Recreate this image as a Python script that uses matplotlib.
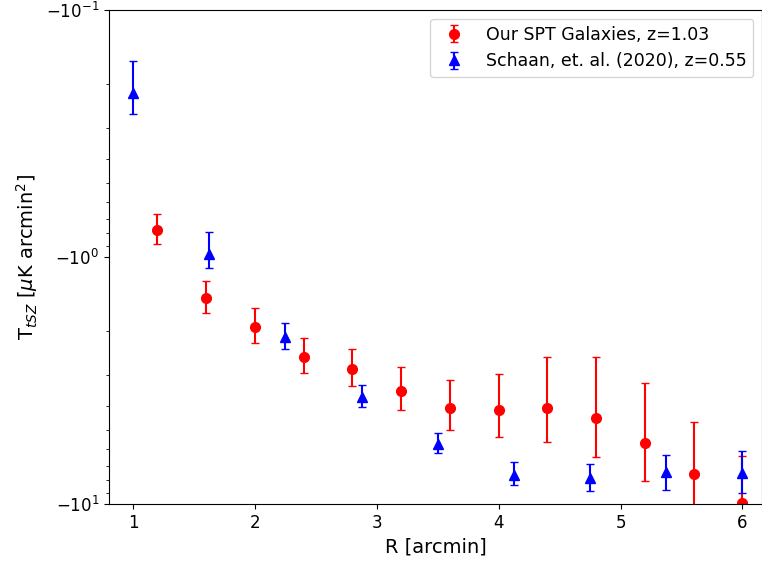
import matplotlib
matplotlib.use("Agg")
import matplotlib.pyplot as plt
from matplotlib.ticker import FixedLocator
import numpy as np

# red: our SPT galaxies (negative tSZ signal)
r_spt = [1.2, 1.6, 2.0, 2.4, 2.8, 3.2, 3.6, 4.0, 4.4, 4.8, 5.2, 5.6, 6.0]
t_spt = [-0.778, -1.466, -1.92, -2.54, -2.84, -3.48, -4.08, -4.16, -4.08, -4.49, -5.66, -7.56, -9.9]
err_lo_spt = [0.107, 0.22, 0.31, 0.41, 0.49, 0.68, 0.93, 1.19, 1.53, 1.95, 2.41, 2.9, 3.5]   # toward zero
err_hi_spt = [0.107, 0.22, 0.31, 0.41, 0.49, 0.68, 0.93, 1.19, 1.53, 1.95, 2.41, 2.86, 3.5]  # away from zero

# blue: Schaan et al. (2020)
r_sch = [1.0, 1.625, 2.25, 2.875, 3.5, 4.125, 4.75, 5.375, 6.0]
t_sch = [-0.217, -0.973, -2.11, -3.69, -5.71, -7.64, -7.85, -7.42, -7.48]
err_lo_sch = [0.056, 0.18, 0.26, 0.38, 0.55, 0.87, 0.96, 1.09, 1.38]
err_hi_sch = [0.047, 0.13, 0.25, 0.36, 0.51, 0.73, 1.0, 1.35, 1.54]

fig, ax = plt.subplots(figsize=(7.62, 5.63), dpi=100)

ax.errorbar(r_spt, t_spt, yerr=[err_hi_spt, err_lo_spt], fmt="o", color="red",
            capsize=3, markersize=7, label="Our SPT Galaxies, z=1.03")
ax.errorbar(r_sch, t_sch, yerr=[err_hi_sch, err_lo_sch], fmt="^", color="blue",
            capsize=3, markersize=7, label="Schaan, et. al. (2020), z=0.55")

ax.set_yscale("symlog", linthresh=0.01)
minor = [-k * 10.0 ** d for d in (-1, 0) for k in range(2, 10)]
ax.yaxis.set_minor_locator(FixedLocator(minor))
ax.set_ylim(-10, -0.1)
ax.set_xlim(0.803, 6.16)
ax.set_xlabel("R [arcmin]", fontsize=14)
ax.set_ylabel(r"T$_{tSZ}$ [$\mu$K arcmin$^2$]", fontsize=14)
ax.tick_params(labelsize=12)
ax.legend(loc="upper right", fontsize=12.5)

fig.subplots_adjust(left=0.143, right=1.0, top=0.982, bottom=0.105)
fig.savefig("out.png", dpi=100)
